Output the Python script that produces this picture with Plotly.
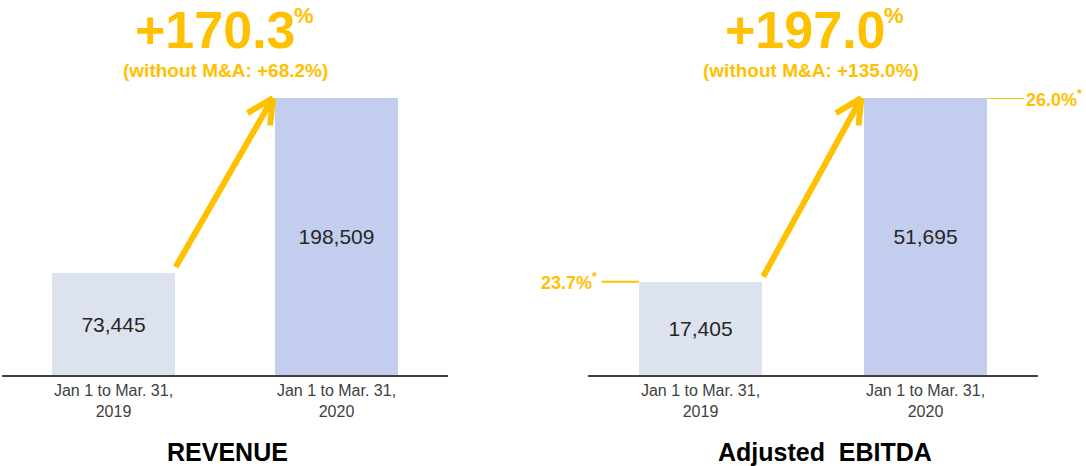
import plotly.graph_objects as go

W, H = 1086, 466
periods = ["Jan 1 to Mar. 31,<br>2019", "Jan 1 to Mar. 31,<br>2020"]
revenue = [73445, 198509]
ebitda = [17405, 51695]
margins = ["23.7%", "26.0%"]
rev_growth = "+170.3"
rev_growth_organic = "(without M&A: +68.2%)"
ebitda_growth = "+197.0"
ebitda_growth_organic = "(without M&A: +135.0%)"
panel_titles = ["REVENUE", "Adjusted  EBITDA"]

bar_colors = ["#DDE3EE", "#C3CEEF"]
ORANGE = "#FFC000"
FONT = "Arial, Liberation Sans, sans-serif"
BW = 0.55


def px(x):
    return x / W


def py(y):
    return 1 - y / H


fig = go.Figure()
idx = [0, 1]
for vals, xa, ya in [(revenue, "x", "y"), (ebitda, "x2", "y2")]:
    fig.add_trace(go.Bar(
        x=idx, y=vals, width=BW, marker=dict(color=bar_colors, line=dict(width=0)),
        text=[f"{v:,}" for v in vals], textposition="inside", insidetextanchor="middle",
        textfont=dict(family=FONT, size=21, color="#262626"),
        xaxis=xa, yaxis=ya, showlegend=False, hoverinfo="skip"))

ydom = [py(375), py(98)]
axcommon = dict(tickmode="array", tickvals=idx, ticktext=periods,
                showline=True, linecolor="#404040", linewidth=2, showgrid=False,
                zeroline=False, ticks="", tickfont=dict(family=FONT, size=16, color="#404040"),
                fixedrange=True)
fig.update_layout(
    width=W, height=H, margin=dict(l=0, r=0, t=0, b=0),
    paper_bgcolor="white", plot_bgcolor="white",
    xaxis=dict(domain=[px(2), px(448)], range=[-0.5, 1.5], anchor="y", **axcommon),
    xaxis2=dict(domain=[px(588), px(1038)], range=[-0.5, 1.5], anchor="y2", **axcommon),
    yaxis=dict(domain=ydom, range=[0, max(revenue)], visible=False, anchor="x"),
    yaxis2=dict(domain=ydom, range=[0, max(ebitda)], visible=False, anchor="x2"),
    bargap=0,
)

anns = []
# growth arrows (shaft + open chevron head)
for vals, xr, yr in [(revenue, "x", "y"), (ebitda, "x2", "y2")]:
    tip = dict(x=1 - BW / 2 - 0.01, y=vals[1], xref=xr, yref=yr, text="", showarrow=True,
               arrowhead=0, arrowwidth=6, arrowcolor=ORANGE, standoff=0, startstandoff=0)
    anns.append(dict(tip, ax=BW / 2, ay=vals[0] * 1.04, axref=xr, ayref=yr))
    anns.append(dict(tip, ax=-27, ay=16, axref="pixel", ayref="pixel"))
    anns.append(dict(tip, ax=-3, ay=29, axref="pixel", ayref="pixel"))

# headline growth
for xr_, cx, g, sub in [(297, 225, rev_growth, rev_growth_organic),
                        (887, 811, ebitda_growth, ebitda_growth_organic)]:
    anns.append(dict(x=px(xr_), y=py(30), xref="paper", yref="paper", showarrow=False,
                     text=f"<b>{g}</b>", font=dict(family=FONT, size=52, color=ORANGE),
                     xanchor="right", yanchor="middle", borderpad=0))
    anns.append(dict(x=px(xr_ - 4), y=py(2), xref="paper", yref="paper", showarrow=False,
                     text="<b>%</b>", font=dict(family=FONT, size=22, color=ORANGE),
                     xanchor="left", yanchor="top", borderpad=0))
    anns.append(dict(x=px(cx), y=py(70), xref="paper", yref="paper", showarrow=False,
                     text=f"<b>{sub}</b>", font=dict(family=FONT, size=19, color=ORANGE),
                     xanchor="center", yanchor="middle"))

# panel titles
for cx, t in [(227, panel_titles[0]), (825, panel_titles[1])]:
    anns.append(dict(x=px(cx), y=py(452), xref="paper", yref="paper", showarrow=False,
                     text=f"<b>{t}</b>", font=dict(family=FONT, size=25, color="#000000"),
                     xanchor="center", yanchor="middle"))

# EBITDA margin markers
shapes = []
seg = 0.165
shapes.append(dict(type="line", xref="x2", yref="y2", x0=-BW / 2 - seg, x1=-BW / 2,
                   y0=ebitda[0], y1=ebitda[0], line=dict(color=ORANGE, width=2)))
shapes.append(dict(type="line", xref="x2", yref="y2", x0=1 + BW / 2, x1=1 + BW / 2 + seg,
                   y0=ebitda[1], y1=ebitda[1], line=dict(color=ORANGE, width=2)))
anns.append(dict(x=-BW / 2 - seg - 0.012, y=ebitda[0], xref="x2", yref="y2", showarrow=False,
                 text=f"<b>{margins[0]}<sup>*</sup></b>", font=dict(family=FONT, size=18, color=ORANGE),
                 xanchor="right", yanchor="middle"))
anns.append(dict(x=1 + BW / 2 + seg - 0.004, y=ebitda[1], xref="x2", yref="y2", showarrow=False,
                 text=f"<b>{margins[1]}<sup>*</sup></b>", font=dict(family=FONT, size=18, color=ORANGE),
                 xanchor="left", yanchor="middle"))

fig.update_layout(annotations=anns, shapes=shapes)
fig.write_html("out.html", config={"displayModeBar": False},
               post_script="document.body.style.margin='0';document.body.style.overflow='hidden';")
